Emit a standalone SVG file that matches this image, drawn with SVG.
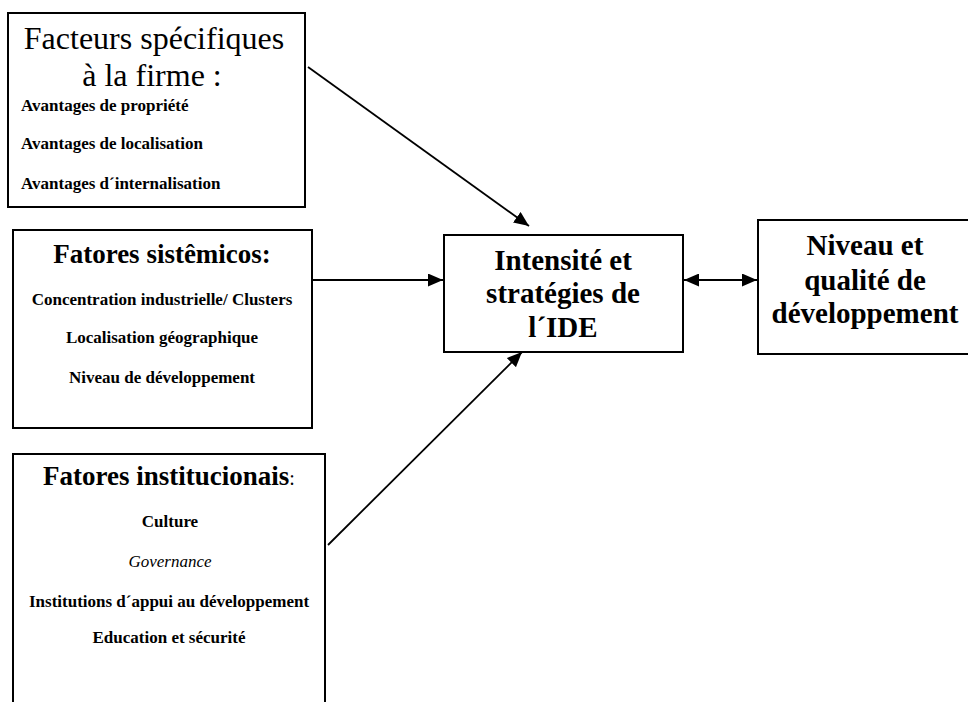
<svg xmlns="http://www.w3.org/2000/svg" width="968" height="702" viewBox="0 0 968 702">
<style>
.box{fill:#fff;stroke:#000;stroke-width:2}
.t{font-family:"Liberation Serif","Times New Roman",serif;fill:#000}
.b{font-weight:bold}
.c{text-anchor:middle}
.big{font-size:29px}
.sub{font-size:17px}
.con{stroke:#000;stroke-width:1.8;fill:none}
</style>
<defs>
<marker id="ah" viewBox="0 0 15 13" refX="15" refY="6.5" markerWidth="15" markerHeight="13" markerUnits="userSpaceOnUse" orient="auto-start-reverse">
<path d="M0,0 L15,6.5 L0,13 Z" fill="#000"/>
</marker>
</defs>
<rect width="968" height="702" fill="#fff"/>
<g id="connectors">
<line class="con" x1="308" y1="67" x2="529" y2="226" marker-end="url(#ah)"/>
<line class="con" x1="312" y1="280" x2="443" y2="280" marker-end="url(#ah)"/>
<line class="con" x1="328" y1="545" x2="522" y2="352" marker-end="url(#ah)"/>
<line class="con" x1="684" y1="280" x2="757" y2="280" marker-start="url(#ah)" marker-end="url(#ah)"/>
</g>
<g id="firme">
<rect class="box" x="8" y="13" width="297" height="194"/>
<text class="t c" x="154" y="49" font-size="32">Facteurs spécifiques</text>
<text class="t c" x="152" y="86" font-size="32">à la firme :</text>
<text class="t b sub" x="21" y="111">Avantages de propriété</text>
<text class="t b sub" x="21" y="149">Avantages de localisation</text>
<text class="t b sub" x="21" y="189">Avantages d´internalisation</text>
</g>
<g id="systemiques">
<rect class="box" x="13" y="230" width="299" height="198"/>
<text class="t b c" x="162" y="263" font-size="27">Fatores sistêmicos:</text>
<text class="t b c sub" x="162" y="305">Concentration industrielle/ Clusters</text>
<text class="t b c sub" x="162" y="343">Localisation géographique</text>
<text class="t b c sub" x="162" y="383">Niveau de développement</text>
</g>
<g id="institutionnels">
<rect class="box" x="13" y="454" width="312" height="260"/>
<text class="t c" x="169" y="485"><tspan class="b" font-size="27">Fatores institucionais</tspan><tspan font-size="20">:</tspan></text>
<text class="t b c sub" x="170" y="527">Culture</text>
<text class="t c sub" x="170" y="567" font-style="italic">Governance</text>
<text class="t b c sub" x="169" y="607">Institutions d´appui au développement</text>
<text class="t b c sub" x="169" y="643">Education et sécurité</text>
</g>
<g id="ide">
<rect class="box" x="444" y="235" width="239" height="117"/>
<text class="t b c big" x="563" y="270">Intensité et</text>
<text class="t b c big" x="563" y="303">stratégies de</text>
<text class="t b c big" x="563" y="337">l´IDE</text>
</g>
<g id="developpement">
<rect class="box" x="758" y="220" width="217" height="134"/>
<text class="t b c big" x="865" y="255">Niveau et</text>
<text class="t b c big" x="865" y="290">qualité de</text>
<text class="t b c big" x="865" y="323">développement</text>
</g>
</svg>
